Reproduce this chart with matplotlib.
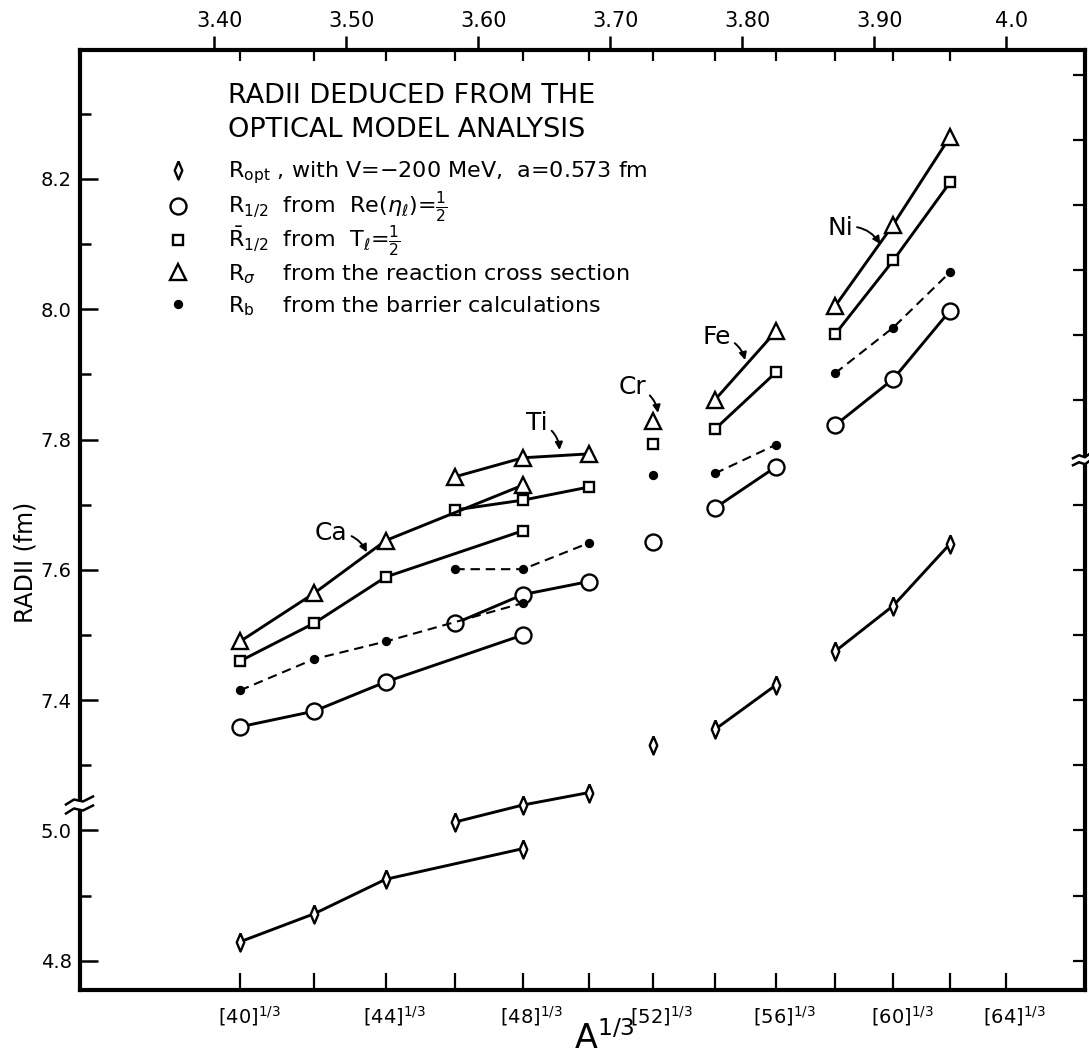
import matplotlib
matplotlib.use('Agg')
import matplotlib.pyplot as plt
import matplotlib.transforms as mtransforms
from matplotlib.lines import Line2D
from matplotlib.legend import Legend
import numpy as np

plt.rcParams['font.family'] = ['DejaVu Sans']
plt.rcParams['mathtext.fontset'] = 'dejavusans'

# lower part of the axis (R_opt, ~5 fm) is drawn shifted up by this much
OFFSET = 2.2

#* ----- mass numbers -----
A_Ca = [40, 42, 44, 48]
A_Ti = [46, 48, 50]
A_Cr = [52]
A_Fe = [54, 56]
A_Ni = [58, 60, 62]

#* ----- R_sigma, reaction cross section (triangles) -----
Rsig_Ca = [7.490, 7.564, 7.645, 7.730]
Rsig_Ti = [7.743, 7.772, 7.778]
Rsig_Cr = [7.829]
Rsig_Fe = [7.861, 7.966]
Rsig_Ni = [8.005, 8.130, 8.265]

#* ----- Rbar_1/2 from T_l = 1/2 (squares) -----
Rbar_Ca = [7.460, 7.518, 7.589, 7.660]
Rbar_Ti = [7.692, 7.707, 7.727]
Rbar_Cr = [7.793]
Rbar_Fe = [7.816, 7.903]
Rbar_Ni = [7.962, 8.075, 8.195]

#* ----- R_b barrier calculations (dots) -----
Rb_Ca = [7.415, 7.463, 7.490, 7.549]
Rb_Ti = [7.601, 7.601, 7.641]
Rb_Cr = [7.745]
Rb_Fe = [7.748, 7.792]
Rb_Ni = [7.902, 7.972, 8.057]

#* ----- R_1/2 from Re(eta_l) = 1/2 (circles) -----
Rhalf_Ca = [7.359, 7.383, 7.428, 7.500]
Rhalf_Ti = [7.518, 7.562, 7.582]
Rhalf_Cr = [7.642]
Rhalf_Fe = [7.695, 7.758]
Rhalf_Ni = [7.822, 7.893, 7.998]

#* ----- R_opt, V=-200 MeV (diamonds), true values in fm -----
Ropt_Ca = [4.829, 4.872, 4.925, 4.972]
Ropt_Ti = [5.013, 5.039, 5.058]
Ropt_Cr = [5.131]
Ropt_Fe = [5.155, 5.223]
Ropt_Ni = [5.275, 5.345, 5.440]

elements = ['Ca', 'Ti', 'Cr', 'Fe', 'Ni']
A_lists = [A_Ca, A_Ti, A_Cr, A_Fe, A_Ni]
Rsig = [Rsig_Ca, Rsig_Ti, Rsig_Cr, Rsig_Fe, Rsig_Ni]
Rbar = [Rbar_Ca, Rbar_Ti, Rbar_Cr, Rbar_Fe, Rbar_Ni]
Rb = [Rb_Ca, Rb_Ti, Rb_Cr, Rb_Fe, Rb_Ni]
Rhalf = [Rhalf_Ca, Rhalf_Ti, Rhalf_Cr, Rhalf_Fe, Rhalf_Ni]
Ropt = [Ropt_Ca, Ropt_Ti, Ropt_Cr, Ropt_Fe, Ropt_Ni]

top_ticks = [3.40, 3.50, 3.60, 3.70, 3.80, 3.90, 4.0]
top_labels = ['3.40', '3.50', '3.60', '3.70', '3.80', '3.90', '4.0']
bottom_A = list(range(40, 66, 2))
labelled_A = [40, 44, 48, 52, 56, 60, 64]

left_major = [4.8, 5.0, 7.4, 7.6, 7.8, 8.0, 8.2]
left_minor = [4.9, 7.3, 7.5, 7.7, 7.9, 8.1, 8.3]
right_ticks_low = [4.8, 4.9, 5.0, 5.1, 5.2, 5.3, 5.4, 5.5]
right_ticks_high = [7.86, 7.96, 8.06, 8.16, 8.26, 8.36]


def cube_root(a):
    return np.asarray(a, dtype=float) ** (1.0 / 3.0)


def shown(v):
    # values of the lower (R_opt) scale are moved up by OFFSET
    v = np.asarray(v, dtype=float)
    return np.where(v < 6.0, v + OFFSET, v)


fig = plt.figure(figsize=(10.89, 10.55), dpi=100)
ax = fig.add_axes([80 / 1089, 65 / 1055, 1005 / 1089, 940 / 1055])
ax.set_xlim(3.2987, 4.0601)
ax.set_ylim(6.955, 8.398)

LW = 2.1
MEW = 1.7
styles = {
    'sig': dict(marker='^', ms=12, mfc='white', ls='-'),
    'bar': dict(marker='s', ms=7, mfc='white', ls='-'),
    'b': dict(marker='o', ms=5, mfc='black', ls='--', dashes=(4.5, 2.8)),
    'half': dict(marker='o', ms=11.5, mfc='white', ls='-'),
    'opt': dict(marker=[(0, 1), (0.42, 0), (0, -1), (-0.42, 0), (0, 1)], ms=13, mfc='white', ls='-'),
}

for key, series in [('opt', Ropt), ('half', Rhalf), ('b', Rb), ('bar', Rbar), ('sig', Rsig)]:
    st = dict(styles[key])
    lw = 1.5 if key == 'b' else LW
    for A, vals in zip(A_lists, series):
        ax.plot(cube_root(A), shown(vals), color='black', lw=lw, mec='black',
                mew=MEW, zorder=3, clip_on=False, **st)

#* ----- axes frame and ticks -----
for sp in ax.spines.values():
    sp.set_linewidth(3.0)

ax.set_yticks(shown(left_major))
ax.set_yticklabels(['%.1f' % v for v in left_major], fontsize=14)
ax.set_yticks(shown(left_minor), minor=True)
ax.tick_params(axis='y', which='major', direction='in', length=13, width=1.8, pad=6,
               left=True, right=False)
ax.tick_params(axis='y', which='minor', direction='in', length=8, width=1.8,
               left=True, right=False)

ax.set_xticks(cube_root(bottom_A))
ax.set_xticklabels(['[%d]$^{1/3}$' % a if a in labelled_A else '' for a in bottom_A],
                   fontsize=14)
ax.tick_params(axis='x', which='major', direction='in', length=12, width=1.6, pad=10,
               bottom=True, top=False)
shift_b = mtransforms.ScaledTranslation(9 / 100, 0, fig.dpi_scale_trans)
for lab in ax.get_xticklabels():
    lab.set_transform(lab.get_transform() + shift_b)

ax_t = ax.twiny()
ax_t.set_xlim(ax.get_xlim())
ax_t.set_xticks(top_ticks)
ax_t.set_xticklabels(top_labels, fontsize=15)
ax_t.set_xticks(cube_root(bottom_A), minor=True)
ax_t.tick_params(axis='x', which='major', direction='out', length=10, width=1.8, pad=4)
ax_t.tick_params(axis='x', which='minor', direction='in', length=8, width=1.6)
for sp in ax_t.spines.values():
    sp.set_visible(False)
shift_t = mtransforms.ScaledTranslation(6 / 100, 0, fig.dpi_scale_trans)
for lab in ax_t.get_xticklabels():
    lab.set_transform(lab.get_transform() + shift_t)

ax_r = ax.twinx()
ax_r.set_ylim(ax.get_ylim())
ax_r.set_yticks(list(shown(right_ticks_low)) + right_ticks_high)
ax_r.set_yticklabels([])
ax_r.tick_params(axis='y', direction='in', length=9, width=1.6)
for sp in ax_r.spines.values():
    sp.set_visible(False)

ax.set_ylabel('RADII (fm)', fontsize=17)
ax.yaxis.set_label_coords(-0.042, 0.455)
ax.set_xlabel('A$^{1/3}$', fontsize=24)
ax.xaxis.set_label_coords(0.522, -0.033)

#* ----- axis breaks -----
bt = mtransforms.blended_transform_factory(ax.transAxes, ax.transData)
px_x = 1.0 / 1005
px_y = (8.398 - 6.955) / 940


def break_mark(x0, y0, xs, ys, gap):
    ax.plot([x0, x0], [y0 - gap * px_y, y0 + gap * px_y], color='white', lw=5,
            transform=bt, clip_on=False, zorder=5, solid_capstyle='butt')
    for off in (-gap, gap):
        ax.plot([x0 + dx * px_x for dx in xs], [y0 + (dy + off) * px_y for dy in ys],
                color='black', lw=1.8, transform=bt, clip_on=False, zorder=6)


break_mark(0.0, 7.239, [-14, -6, 3, 13], [-4, 1, -1, 4], 4.5)
break_mark(1.0, 7.769, [-12, -6, 0, 4], [-2, 1, -1, 2], 3.5)

#* ----- title and legend -----
ax.text((228 - 80) / 1005, (990 - 96) / 940, 'RADII DEDUCED FROM THE',
        transform=ax.transAxes, fontsize=19.5, va='center', ha='left')
ax.text((228 - 80) / 1005, (990 - 130) / 940, 'OPTICAL MODEL ANALYSIS',
        transform=ax.transAxes, fontsize=19.5, va='center', ha='left')

legend_keys = ['opt', 'half', 'bar', 'sig', 'b']
legend_texts = [
    r'R$_{\mathregular{opt}}$ , with V=$-$200 MeV,  a=0.573 fm',
    r'R$_{1/2}$  from  Re$(\eta_\ell)$=$\frac{1}{2}$',
    r'$\bar{\mathregular{R}}_{1/2}$  from  T$_\ell$=$\frac{1}{2}$',
    r'R$_\sigma$    from the reaction cross section',
    r'R$_\mathregular{b}$    from the barrier calculations',
]
legend_rows = [173, 207, 241, 274, 306]
for key, txt, ypx in zip(legend_keys, legend_texts, legend_rows):
    st = {k: v for k, v in styles[key].items() if k not in ('ls', 'dashes')}
    h = Line2D([], [], color='black', mec='black', mew=MEW, ls='none', **st)
    leg = Legend(ax, [h], [txt], loc='center left',
                 bbox_to_anchor=((167 - 80) / 1005, (990 - ypx) / 940),
                 frameon=False, fontsize=16, handlelength=1.0, handletextpad=1.75,
                 borderpad=0, borderaxespad=0)
    ax.add_artist(leg)

#* ----- element labels -----
arrow = dict(arrowstyle='-|>', color='black', lw=1.4, mutation_scale=11,
             shrinkA=1, shrinkB=0)
ax.annotate('Ca', xy=(3.516, 7.627), xytext=(3.489, 7.656), fontsize=18,
            ha='center', va='center',
            arrowprops=dict(arrow, connectionstyle='arc3,rad=-0.35'))
ax.annotate('Ti', xy=(3.662, 7.784), xytext=(3.645, 7.826), fontsize=18,
            ha='center', va='center',
            arrowprops=dict(arrow, connectionstyle='arc3,rad=-0.35'))
ax.annotate('Cr', xy=(3.7366, 7.841), xytext=(3.717, 7.881), fontsize=18,
            ha='center', va='center',
            arrowprops=dict(arrow, connectionstyle='arc3,rad=-0.35'))
ax.annotate('Fe', xy=(3.8026, 7.922), xytext=(3.781, 7.958), fontsize=18,
            ha='center', va='center',
            arrowprops=dict(arrow, connectionstyle='arc3,rad=-0.35'))
ax.annotate('Ni', xy=(3.905, 8.100), xytext=(3.8745, 8.125), fontsize=18,
            ha='center', va='center',
            arrowprops=dict(arrow, connectionstyle='arc3,rad=-0.35'))

fig.savefig('out.png', dpi=100)
